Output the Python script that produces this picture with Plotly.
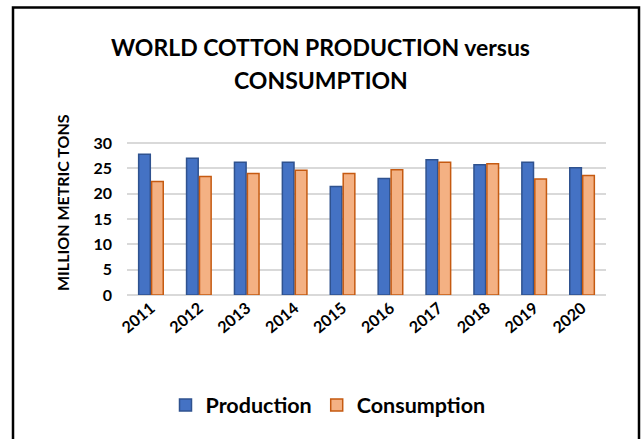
import plotly.graph_objects as go

years = ["2011", "2012", "2013", "2014", "2015", "2016", "2017", "2018", "2019", "2020"]
production = [27.8, 27.0, 26.2, 26.2, 21.4, 23.0, 26.7, 25.7, 26.2, 25.1]
consumption = [22.4, 23.4, 24.0, 24.6, 24.0, 24.7, 26.2, 25.9, 22.9, 23.6]
y_ticks = [0, 5, 10, 15, 20, 25, 30]

FONT = "Lato"

L, T, W, H = 127, 142, 479, 153
FW, FH = 642, 439


def px(fx):
    return (fx - L) / W


def py(fy):
    return (T + H - fy) / H


fig = go.Figure()
fig.add_trace(go.Bar(
    x=years, y=production, name="Production",
    marker=dict(color="#4472C4", line=dict(color="#2F528F", width=1.5)),
))
fig.add_trace(go.Bar(
    x=years, y=consumption, name="Consumption",
    marker=dict(color="#F4B183", line=dict(color="#C55A11", width=1.5)),
))

fig.update_layout(
    width=FW, height=FH,
    margin=dict(l=L, r=FW - L - W, t=T, b=FH - T - H, autoexpand=False),
    paper_bgcolor="white", plot_bgcolor="white",
    barmode="group", bargap=0.46, bargroupgap=0.1,
    font=dict(family=FONT, color="black"),
    legend=dict(
        orientation="h", x=328 / FW, xanchor="center", xref="container",
        y=1 - 405 / FH, yanchor="middle", yref="container",
        font=dict(size=21.5, family=FONT, color="black", weight="bold"),
        traceorder="normal",
    ),
    showlegend=True,
    xaxis=dict(
        tickangle=-40, tickfont=dict(size=16, family=FONT, color="black", weight="bold"),
        showgrid=False, showline=False, ticks="",
    ),
    yaxis=dict(
        range=[0, 30.2], tickvals=y_ticks,
        tickfont=dict(size=16, family=FONT, color="black", weight="bold"),
        showgrid=True, gridcolor="#D9D9D9", gridwidth=1.5,
        zeroline=True, zerolinecolor="#D9D9D9", zerolinewidth=1.5,
        showline=False, ticks="", ticklabelstandoff=14,
    ),
    annotations=[
        dict(text="<b>WORLD COTTON PRODUCTION versus</b>",
             xref="paper", yref="paper", x=px(320), y=py(47),
             xanchor="center", yanchor="middle", showarrow=False,
             font=dict(size=23, family=FONT, color="black")),
        dict(text="<b>CONSUMPTION</b>",
             xref="paper", yref="paper", x=px(321), y=py(80),
             xanchor="center", yanchor="middle", showarrow=False,
             font=dict(size=23, family=FONT, color="black")),
        dict(text="<b>MILLION METRIC TONS</b>", textangle=-90,
             xref="paper", yref="paper", x=px(62), y=py(203),
             xanchor="center", yanchor="middle", showarrow=False,
             font=dict(size=16, family=FONT, color="black")),
    ],
    shapes=[dict(
        type="rect", xref="paper", yref="paper",
        x0=px(13), x1=px(639), y0=py(FH + 20), y1=py(7.5),
        line=dict(color="black", width=2.5), layer="above",
    )],
)

fig.write_html(
    "out.html",
    config={"displayModeBar": False},
    post_script="document.body.style.margin='0';document.body.style.overflow='hidden';",
)
